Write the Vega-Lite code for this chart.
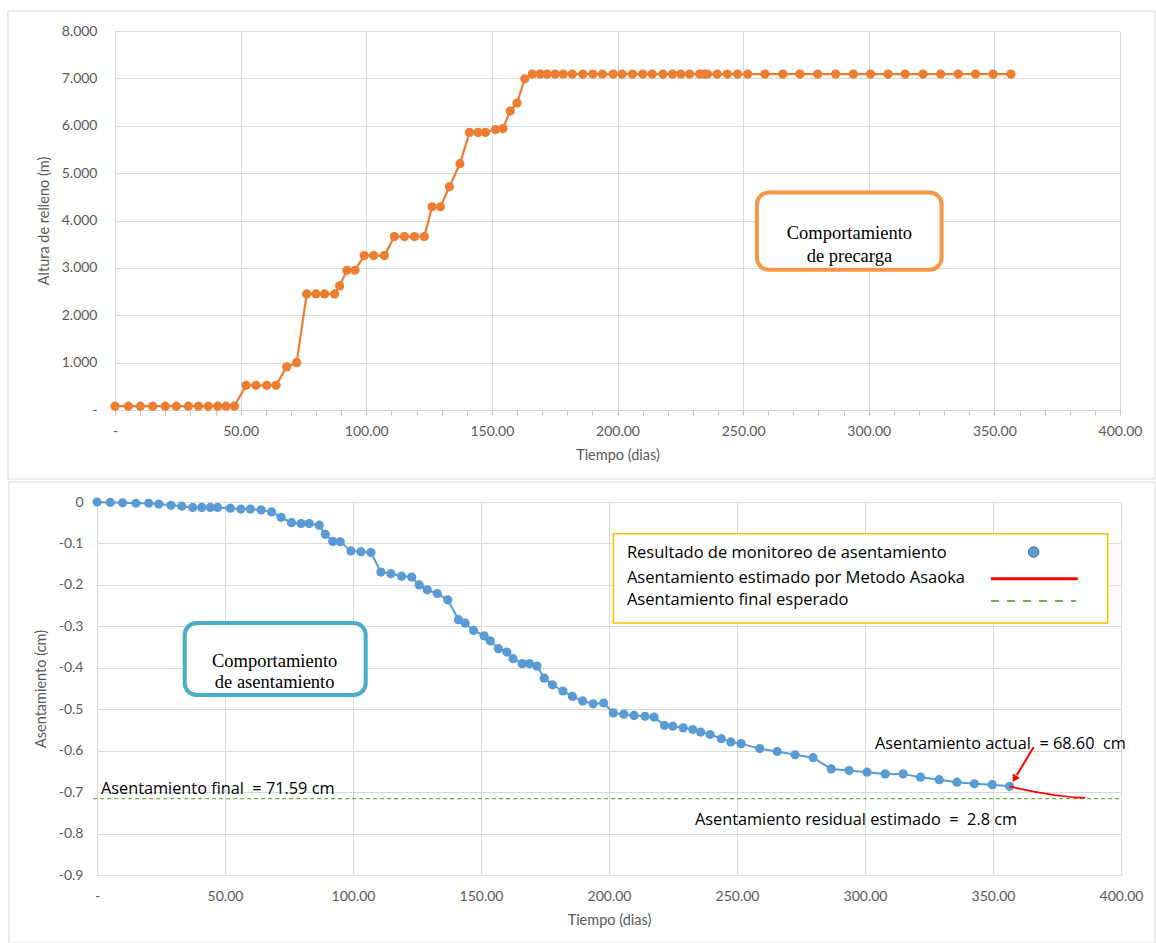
{
  "$schema": "https://vega.github.io/schema/vega-lite/v6.json",
  "background": "white",
  "padding": {"left": 7, "top": 10, "right": 0, "bottom": 0},
  "columns": 1,
  "spacing": 1,
  "datasets": {
    "one": [{}],
    "relleno": [
      {"t": 0, "h": 0.08}, {"t": 5.3, "h": 0.08}, {"t": 10.1, "h": 0.08}, {"t": 15, "h": 0.08},
      {"t": 20, "h": 0.08}, {"t": 24.4, "h": 0.08}, {"t": 29.2, "h": 0.08}, {"t": 33.2, "h": 0.08},
      {"t": 37.1, "h": 0.08}, {"t": 40.9, "h": 0.08}, {"t": 44.2, "h": 0.08}, {"t": 47.5, "h": 0.08},
      {"t": 52.2, "h": 0.52}, {"t": 56.1, "h": 0.52}, {"t": 60.4, "h": 0.52}, {"t": 64.1, "h": 0.52},
      {"t": 68.3, "h": 0.91}, {"t": 72.3, "h": 1.0}, {"t": 76.3, "h": 2.45}, {"t": 80, "h": 2.45},
      {"t": 83.4, "h": 2.45}, {"t": 87.4, "h": 2.45}, {"t": 89.4, "h": 2.62}, {"t": 92.3, "h": 2.95},
      {"t": 95.5, "h": 2.95}, {"t": 99.2, "h": 3.26}, {"t": 103, "h": 3.26}, {"t": 107.2, "h": 3.26},
      {"t": 111.2, "h": 3.66}, {"t": 115.2, "h": 3.66}, {"t": 119.2, "h": 3.66}, {"t": 123.1, "h": 3.66},
      {"t": 126.2, "h": 4.29}, {"t": 129.5, "h": 4.29}, {"t": 133.1, "h": 4.71}, {"t": 137.3, "h": 5.2},
      {"t": 141.1, "h": 5.86}, {"t": 144.5, "h": 5.86}, {"t": 147.4, "h": 5.86}, {"t": 151.5, "h": 5.92},
      {"t": 154.4, "h": 5.94}, {"t": 157.3, "h": 6.31}, {"t": 160, "h": 6.48}, {"t": 163.1, "h": 6.99},
      {"t": 166.1, "h": 7.09}, {"t": 169.2, "h": 7.09}, {"t": 172, "h": 7.09}, {"t": 175.2, "h": 7.09},
      {"t": 178.4, "h": 7.09}, {"t": 182, "h": 7.09}, {"t": 186.2, "h": 7.09}, {"t": 190.2, "h": 7.09},
      {"t": 194, "h": 7.09}, {"t": 198.3, "h": 7.09}, {"t": 201.8, "h": 7.09}, {"t": 206, "h": 7.09},
      {"t": 210, "h": 7.09}, {"t": 213.8, "h": 7.09}, {"t": 218.1, "h": 7.09}, {"t": 221.9, "h": 7.09},
      {"t": 225.2, "h": 7.09}, {"t": 228.7, "h": 7.09}, {"t": 232.7, "h": 7.09}, {"t": 234.5, "h": 7.09},
      {"t": 235.8, "h": 7.09}, {"t": 239.7, "h": 7.09}, {"t": 243.7, "h": 7.09}, {"t": 247.8, "h": 7.09},
      {"t": 251.8, "h": 7.09}, {"t": 258.7, "h": 7.09}, {"t": 265.8, "h": 7.09}, {"t": 272.6, "h": 7.09},
      {"t": 279.7, "h": 7.09}, {"t": 286.8, "h": 7.09}, {"t": 293.9, "h": 7.09}, {"t": 300.7, "h": 7.09},
      {"t": 307.7, "h": 7.09}, {"t": 314.5, "h": 7.09}, {"t": 321.6, "h": 7.09}, {"t": 328.6, "h": 7.09},
      {"t": 335.6, "h": 7.09}, {"t": 342.5, "h": 7.09}, {"t": 349.5, "h": 7.09}, {"t": 356.6, "h": 7.09}
    ],
    "asentamiento": [
      {"t": 0, "s": 0}, {"t": 5.2, "s": -0.001}, {"t": 10, "s": -0.002}, {"t": 15.2, "s": -0.003},
      {"t": 20.2, "s": -0.003}, {"t": 24.1, "s": -0.005}, {"t": 28.9, "s": -0.008}, {"t": 33.1, "s": -0.01},
      {"t": 37.4, "s": -0.013}, {"t": 40.9, "s": -0.013}, {"t": 44.3, "s": -0.013}, {"t": 47.1, "s": -0.013},
      {"t": 52.1, "s": -0.015}, {"t": 56.2, "s": -0.017}, {"t": 59.9, "s": -0.017}, {"t": 64.1, "s": -0.019},
      {"t": 68.2, "s": -0.024}, {"t": 71.9, "s": -0.037}, {"t": 76, "s": -0.05}, {"t": 79.7, "s": -0.052},
      {"t": 82.9, "s": -0.052}, {"t": 86.8, "s": -0.056}, {"t": 89.2, "s": -0.078}, {"t": 92.1, "s": -0.095},
      {"t": 95, "s": -0.096}, {"t": 99.2, "s": -0.118}, {"t": 103.1, "s": -0.12}, {"t": 107, "s": -0.122},
      {"t": 110.9, "s": -0.169}, {"t": 114.8, "s": -0.173}, {"t": 119, "s": -0.179}, {"t": 122.9, "s": -0.181},
      {"t": 125.9, "s": -0.2}, {"t": 129, "s": -0.212}, {"t": 132.9, "s": -0.221}, {"t": 137, "s": -0.236},
      {"t": 141.2, "s": -0.284}, {"t": 143.8, "s": -0.292}, {"t": 147.1, "s": -0.31}, {"t": 151.2, "s": -0.323},
      {"t": 153.6, "s": -0.335}, {"t": 156.8, "s": -0.354}, {"t": 160.1, "s": -0.362}, {"t": 162.5, "s": -0.378},
      {"t": 166.1, "s": -0.39}, {"t": 169, "s": -0.39}, {"t": 171.9, "s": -0.396}, {"t": 174.7, "s": -0.425},
      {"t": 177.9, "s": -0.441}, {"t": 182, "s": -0.456}, {"t": 185.7, "s": -0.469}, {"t": 189.7, "s": -0.48},
      {"t": 193.8, "s": -0.487}, {"t": 197.9, "s": -0.485}, {"t": 201.7, "s": -0.509}, {"t": 205.8, "s": -0.512},
      {"t": 209.8, "s": -0.515}, {"t": 214.1, "s": -0.517}, {"t": 217.6, "s": -0.519}, {"t": 221.7, "s": -0.539},
      {"t": 224.9, "s": -0.541}, {"t": 229, "s": -0.545}, {"t": 232.7, "s": -0.549}, {"t": 235.8, "s": -0.555},
      {"t": 239.5, "s": -0.561}, {"t": 243.9, "s": -0.571}, {"t": 247.6, "s": -0.579}, {"t": 251.6, "s": -0.583},
      {"t": 258.9, "s": -0.595}, {"t": 265.7, "s": -0.602}, {"t": 272.7, "s": -0.61}, {"t": 279.7, "s": -0.617},
      {"t": 286.8, "s": -0.644}, {"t": 293.8, "s": -0.648}, {"t": 300.8, "s": -0.652}, {"t": 307.9, "s": -0.656},
      {"t": 314.9, "s": -0.656}, {"t": 321.7, "s": -0.664}, {"t": 329, "s": -0.67}, {"t": 335.9, "s": -0.676},
      {"t": 342.7, "s": -0.68}, {"t": 349.7, "s": -0.682}, {"t": 356.5, "s": -0.686}
    ],
    "asaoka": [
      {"t": 356.5, "s": -0.686}, {"t": 359, "s": -0.69}, {"t": 362, "s": -0.694}, {"t": 366, "s": -0.699},
      {"t": 370, "s": -0.703}, {"t": 374, "s": -0.707}, {"t": 378, "s": -0.71}, {"t": 382, "s": -0.713},
      {"t": 386, "s": -0.714}
    ]
  },
  "concat": [
    {
      "width": 1023,
      "height": 379,
      "data": {"name": "one"},
      "resolve": {"axis": {"x": "independent"}},
      "layer": [
        {
          "mark": {"type": "rect", "fill": "white", "fillOpacity": 0, "stroke": "#D9D9D9", "strokeWidth": 1},
          "encoding": {
            "x": {"datum": -42.6, "type": "quantitative",
                  "axis": {"orient": "bottom", "title": null, "labels": false, "grid": false, "domain": false,
                           "ticks": true, "tickSize": 5, "tickColor": "#BFBFBF",
                           "values": [0,10,20,30,40,50,60,70,80,90,100,110,120,130,140,150,160,170,180,190,200,210,220,230,240,250,260,270,280,290,300,310,320,330,340,350,360,370,380,390,400]}},
            "x2": {"datum": 413.9},
            "y": {"datum": 8.42, "type": "quantitative"},
            "y2": {"datum": -1.456}
          }
        },
        {
          "data": {"name": "relleno"},
          "mark": {"type": "line", "color": "#ED7D31", "strokeWidth": 2.25,
                   "point": {"filled": true, "size": 85, "color": "#ED7D31"}},
          "encoding": {
            "x": {"field": "t", "type": "quantitative",
                  "scale": {"domain": [0, 400], "range": [18, 1023], "nice": false, "zero": false},
                  "axis": {"orient": "bottom", "title": "Tiempo (dias)", "grid": true, "labelOverlap": false, "labelFlush": false,
                           "values": [0,50,100,150,200,250,300,350,400],
                           "labelExpr": "datum.value === 0 ? '-' : format(datum.value, '.2f')",
                           "ticks": false, "labelPadding": 14, "titlePadding": 10}},
            "y": {"field": "h", "type": "quantitative",
                  "scale": {"domain": [0, 8], "nice": false, "zero": false},
                  "axis": {"title": "Altura de relleno (m)", "grid": true, "labelOverlap": false, "values": [0,1,2,3,4,5,6,7,8],
                           "labelExpr": "datum.value === 0 ? '-' : format(datum.value, '.3f')",
                           "offset": -18, "ticks": false, "labelPadding": 18, "titlePadding": 10}}
          }
        },
        {
          "mark": {"type": "rect", "fill": "white", "stroke": "#F79646", "strokeWidth": 4, "cornerRadius": 12},
          "encoding": {
            "x": {"datum": 255.5, "type": "quantitative", "axis": null},
            "x2": {"datum": 329.0},
            "y": {"datum": 4.593, "type": "quantitative"},
            "y2": {"datum": 2.96}
          }
        },
        {
          "mark": {"type": "text", "text": ["Comportamiento", "de precarga"], "font": "Liberation Serif",
                   "fontSize": 18.5, "lineHeight": 23, "color": "black", "align": "center", "baseline": "middle"},
          "encoding": {
            "x": {"datum": 292.3, "type": "quantitative", "axis": null},
            "y": {"datum": 3.74, "type": "quantitative"}
          }
        }
      ]
    },
    {
      "width": 1024,
      "height": 373,
      "data": {"name": "one"},
      "layer": [
        {
          "mark": {"type": "rect", "fill": "white", "fillOpacity": 0, "stroke": "#D9D9D9", "strokeWidth": 1},
          "encoding": {
            "x": {"datum": -34.4, "type": "quantitative"},
            "x2": {"datum": 413.3},
            "y": {"datum": 0.0483, "type": "quantitative"},
            "y2": {"datum": -1.064}
          }
        },
        {
          "mark": {"type": "rule", "color": "#70AD47", "strokeWidth": 1.25, "strokeDash": [4, 3]},
          "encoding": {
            "x": {"datum": -1.5, "type": "quantitative"},
            "x2": {"datum": 400},
            "y": {"datum": -0.7159, "type": "quantitative"}
          }
        },
        {
          "data": {"name": "asentamiento"},
          "mark": {"type": "line", "color": "#5B9BD5", "strokeWidth": 2,
                   "point": {"filled": true, "size": 85, "color": "#5B9BD5"}},
          "encoding": {
            "x": {"field": "t", "type": "quantitative",
                  "scale": {"domain": [0, 400], "nice": false, "zero": false},
                  "axis": {"title": "Tiempo (dias)", "grid": true, "labelOverlap": false, "labelFlush": false,
                           "values": [0,50,100,150,200,250,300,350,400],
                           "labelExpr": "datum.value === 0 ? '-' : format(datum.value, '.2f')",
                           "ticks": false, "labelPadding": 14, "titlePadding": 10}},
            "y": {"field": "s", "type": "quantitative",
                  "scale": {"domain": [-0.9, 0], "nice": false, "zero": false},
                  "axis": {"title": "Asentamiento (cm)", "grid": true, "labelOverlap": false,
                           "values": [0,-0.1,-0.2,-0.3,-0.4,-0.5,-0.6,-0.7,-0.8,-0.9],
                           "labelExpr": "datum.value === 0 ? '0' : '-' + format(-datum.value, '.1f')",
                           "ticks": false, "labelPadding": 14, "titlePadding": 10}}
          }
        },
        {
          "data": {"name": "asaoka"},
          "mark": {"type": "line", "color": "#FF0000", "strokeWidth": 1.75},
          "encoding": {
            "x": {"field": "t", "type": "quantitative"},
            "y": {"field": "s", "type": "quantitative"}
          }
        },
        {
          "mark": {"type": "rule", "color": "#FF0000", "strokeWidth": 2},
          "encoding": {
            "x": {"datum": 365.9, "type": "quantitative"},
            "x2": {"datum": 359.3},
            "y": {"datum": -0.591, "type": "quantitative"},
            "y2": {"datum": -0.659}
          }
        },
        {
          "mark": {"type": "point", "shape": "triangle-down", "filled": true, "color": "#FF0000", "size": 70, "angle": 32, "opacity": 1},
          "encoding": {
            "x": {"datum": 358.4, "type": "quantitative"},
            "y": {"datum": -0.668, "type": "quantitative"}
          }
        },
        {
          "mark": {"type": "text", "text": "Asentamiento final \u00a0= 71.59 cm", "font": "Open Sans", "fontSize": 16.3,
                   "color": "black", "align": "left", "baseline": "middle"},
          "encoding": {"x": {"datum": 1.56, "type": "quantitative"}, "y": {"datum": -0.692, "type": "quantitative"}}
        },
        {
          "mark": {"type": "text", "text": "Asentamiento actual \u00a0= 68.60 \u00a0cm", "font": "Open Sans", "fontSize": 16.3,
                   "color": "black", "align": "left", "baseline": "middle"},
          "encoding": {"x": {"datum": 303.9, "type": "quantitative"}, "y": {"datum": -0.585, "type": "quantitative"}}
        },
        {
          "mark": {"type": "text", "text": "Asentamiento residual estimado \u00a0= \u00a02.8 cm", "font": "Open Sans", "fontSize": 16.3,
                   "color": "black", "align": "left", "baseline": "middle"},
          "encoding": {"x": {"datum": 233.6, "type": "quantitative"}, "y": {"datum": -0.768, "type": "quantitative"}}
        },
        {
          "mark": {"type": "rect", "fill": "white", "stroke": "#4BACC6", "strokeWidth": 4, "cornerRadius": 12},
          "encoding": {
            "x": {"datum": 34.26, "type": "quantitative"},
            "x2": {"datum": 104.96},
            "y": {"datum": -0.292, "type": "quantitative"},
            "y2": {"datum": -0.4657}
          }
        },
        {
          "mark": {"type": "text", "text": ["Comportamiento", "de asentamiento"], "font": "Liberation Serif",
                   "fontSize": 18.5, "lineHeight": 21, "color": "black", "align": "center", "baseline": "middle"},
          "encoding": {
            "x": {"datum": 69.4, "type": "quantitative"},
            "y": {"datum": -0.383, "type": "quantitative"}
          }
        },
        {
          "mark": {"type": "rect", "fill": "white", "stroke": "#FFC000", "strokeWidth": 1.5},
          "encoding": {
            "x": {"datum": 201.68, "type": "quantitative"},
            "x2": {"datum": 394.8},
            "y": {"datum": -0.0765, "type": "quantitative"},
            "y2": {"datum": -0.292}
          }
        },
        {
          "mark": {"type": "text", "text": "Resultado de monitoreo de asentamiento", "font": "Open Sans", "fontSize": 16.5,
                   "color": "black", "align": "left", "baseline": "middle"},
          "encoding": {"x": {"datum": 207.0, "type": "quantitative"}, "y": {"datum": -0.1231, "type": "quantitative"}}
        },
        {
          "mark": {"type": "text", "text": "Asentamiento estimado por Metodo Asaoka", "font": "Open Sans", "fontSize": 16.5,
                   "color": "black", "align": "left", "baseline": "middle"},
          "encoding": {"x": {"datum": 207.0, "type": "quantitative"}, "y": {"datum": -0.1827, "type": "quantitative"}}
        },
        {
          "mark": {"type": "text", "text": "Asentamiento final esperado", "font": "Open Sans", "fontSize": 16.5,
                   "color": "black", "align": "left", "baseline": "middle"},
          "encoding": {"x": {"datum": 207.0, "type": "quantitative"}, "y": {"datum": -0.2372, "type": "quantitative"}}
        },
        {
          "mark": {"type": "point", "shape": "circle", "filled": true, "fill": "#5B9BD5", "stroke": "#41719C",
                   "strokeWidth": 1, "size": 110, "opacity": 1},
          "encoding": {"x": {"datum": 365.9, "type": "quantitative"}, "y": {"datum": -0.1207, "type": "quantitative"}}
        },
        {
          "mark": {"type": "rule", "color": "#FF0000", "strokeWidth": 3},
          "encoding": {
            "x": {"datum": 349.2, "type": "quantitative"},
            "x2": {"datum": 383.1},
            "y": {"datum": -0.185, "type": "quantitative"}
          }
        },
        {
          "mark": {"type": "rule", "color": "#70AD47", "strokeWidth": 2, "strokeDash": [8, 8]},
          "encoding": {
            "x": {"datum": 349.2, "type": "quantitative"},
            "x2": {"datum": 382.4},
            "y": {"datum": -0.2389, "type": "quantitative"}
          }
        }
      ]
    }
  ],
  "config": {
    "view": {"stroke": null},
    "axis": {
      "labelFont": "Lato", "titleFont": "Lato", "labelColor": "#595959", "titleColor": "#595959",
      "labelFontSize": 14, "titleFontSize": 14.5, "titleFontWeight": "normal",
      "gridColor": "#D9D9D9", "domainColor": "#D9D9D9", "tickColor": "#BFBFBF",
      "labelOverlap": false, "labelFlush": false, "labelBound": false
    }
  }
}
